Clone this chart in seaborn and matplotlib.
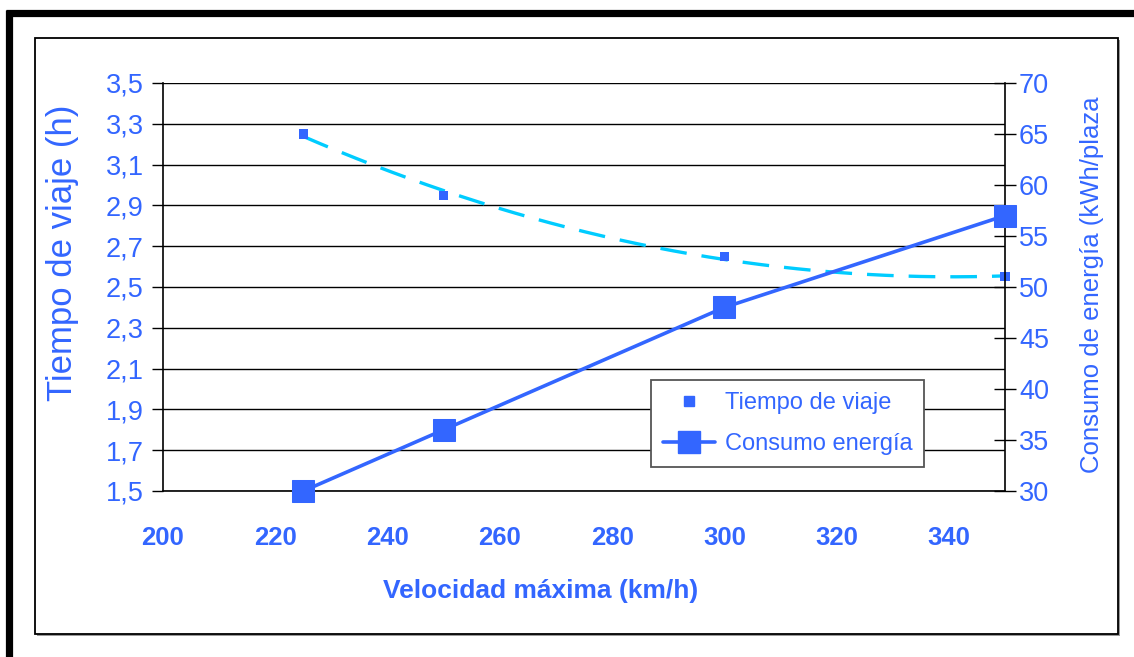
import numpy as np
import pandas as pd
import matplotlib
matplotlib.use("Agg")
import matplotlib.pyplot as plt
from matplotlib.lines import Line2D
from matplotlib.patches import Rectangle
import seaborn as sns

# Data
velocidad = [225, 250, 300, 350]
tiempo_viaje = [3.25, 2.95, 2.65, 2.55]
consumo_energia = [30, 36, 48, 57]

x_ticks = [200, 220, 240, 260, 280, 300, 320, 340]
y_left_ticks = [1.5, 1.7, 1.9, 2.1, 2.3, 2.5, 2.7, 2.9, 3.1, 3.3, 3.5]
y_right_ticks = [30, 35, 40, 45, 50, 55, 60, 65, 70]

BLUE = "#3366FF"
CYAN = "#00CCFF"

sns.set_style("white")
plt.rcParams["font.family"] = ["Liberation Sans", "DejaVu Sans"]

W, H = 1134, 657
fig = plt.figure(figsize=(W / 100, H / 100), dpi=100)

# outer frame with shadow
fx0, fy0, fx1, fy1 = 35, 38, 1118, 634
fig.patches.append(Rectangle(((fx0 + 2) / W, 1 - (fy1 + 2) / H), (fx1 - fx0) / W, (fy1 - fy0) / H,
                             transform=fig.transFigure, facecolor="#999999", edgecolor="none", zorder=-2))
fig.patches.append(Rectangle((fx0 / W, 1 - fy1 / H), (fx1 - fx0) / W, (fy1 - fy0) / H,
                             transform=fig.transFigure, facecolor="white", edgecolor="black",
                             linewidth=1.3, zorder=-1))
# heavy page borders
fig.lines.append(Line2D([6 / W, 1.0], [1 - 13 / H, 1 - 13 / H], transform=fig.transFigure,
                        color="black", linewidth=5.2, solid_capstyle="butt"))
fig.lines.append(Line2D([9 / W, 9 / W], [1 - 10 / H, 0.0], transform=fig.transFigure,
                        color="black", linewidth=5.2, solid_capstyle="butt"))

ax_l, ax_r, ax_t, ax_b = 163, 1005, 83, 491
ax = fig.add_axes([ax_l / W, 1 - ax_b / H, (ax_r - ax_l) / W, (ax_b - ax_t) / H])
ax.patch.set_alpha(0)
ax2 = ax.twinx()
ax2.patch.set_alpha(0)
ax.set_zorder(2)
ax2.set_zorder(3)

df = pd.DataFrame({"vel": velocidad, "tiempo": tiempo_viaje, "consumo": consumo_energia})

# horizontal grid
for yv in y_left_ticks:
    ax.axhline(yv, color="black", linewidth=1.0, zorder=1)

# polynomial trend of travel time
coef = np.polyfit(df["vel"], df["tiempo"], 2)
xs = np.linspace(min(velocidad), max(velocidad), 200)
trend = pd.DataFrame({"vel": xs, "tiempo": np.polyval(coef, xs)})
sns.lineplot(data=trend, x="vel", y="tiempo", ax=ax, color=CYAN, linewidth=2.4, zorder=3)
ax.lines[-1].set_dashes((8, 4.5))

sns.scatterplot(data=df, x="vel", y="tiempo", ax=ax, color=BLUE, marker="s", s=45,
                edgecolor="none", zorder=4, clip_on=False)

sns.lineplot(data=df, x="vel", y="consumo", ax=ax2, color=BLUE, linewidth=2.6,
             marker="s", markersize=16, markeredgecolor=BLUE, zorder=5, clip_on=False)

ax.set_xlim(200, 350)
ax.set_ylim(1.5, 3.5)
ax2.set_ylim(30, 70)
ax.set_xticks(x_ticks)
ax.set_yticks(y_left_ticks)
ax2.set_yticks(y_right_ticks)
ax.set_yticklabels([f"{v:.1f}".replace(".", ",") for v in y_left_ticks])
ax2.set_yticklabels([str(v) for v in y_right_ticks])
ax.set_xticklabels([str(v) for v in x_ticks], fontweight="bold")

for a in (ax, ax2):
    for s in a.spines.values():
        s.set_visible(False)
ax.spines["left"].set_visible(True)
ax.spines["bottom"].set_visible(True)
ax2.spines["right"].set_visible(True)
for s in (ax.spines["left"], ax.spines["bottom"], ax2.spines["right"]):
    s.set_color("black")
    s.set_linewidth(1.2)

ax.tick_params(axis="y", direction="out", length=8, width=1, color="black",
               labelsize=19.5, labelcolor=BLUE, pad=6)
ax.tick_params(axis="x", direction="out", length=9, width=1, color="black",
               labelsize=18.5, labelcolor=BLUE, pad=16)
ax2.tick_params(axis="y", direction="inout", length=16, width=1, color="black",
                labelsize=19.5, labelcolor=BLUE, pad=2)

ax.set_xlabel("Velocidad máxima (km/h)", fontsize=19, fontweight="bold", color=BLUE)
ax.xaxis.set_label_coords(0.448, -0.215)
ax.set_ylabel("Tiempo de viaje (h)", fontsize=25, color=BLUE)
ax.yaxis.set_label_coords(-0.1, 0.585)
ax2.set_ylabel("Consumo de energía (kWh/plaza", fontsize=18.5, color=BLUE, rotation=90)
ax2.yaxis.set_label_coords(1.089, 0.505)

handles = [
    Line2D([], [], color=BLUE, marker="s", linestyle="none", markersize=7),
    Line2D([], [], color=BLUE, marker="s", linewidth=2.6, markersize=16),
]
leg = ax2.legend(handles, ["Tiempo de viaje", "Consumo energía"], loc="lower left",
                 bbox_to_anchor=(0.566, 0.03), fontsize=17, labelcolor=BLUE,
                 frameon=True, fancybox=False, framealpha=1, edgecolor="#555555",
                 handlelength=2.2, borderpad=0.5, labelspacing=0.8, handletextpad=0.4)
leg.get_frame().set_linewidth(1.3)
leg.set_zorder(10)

fig.savefig("out.png", dpi=100)
